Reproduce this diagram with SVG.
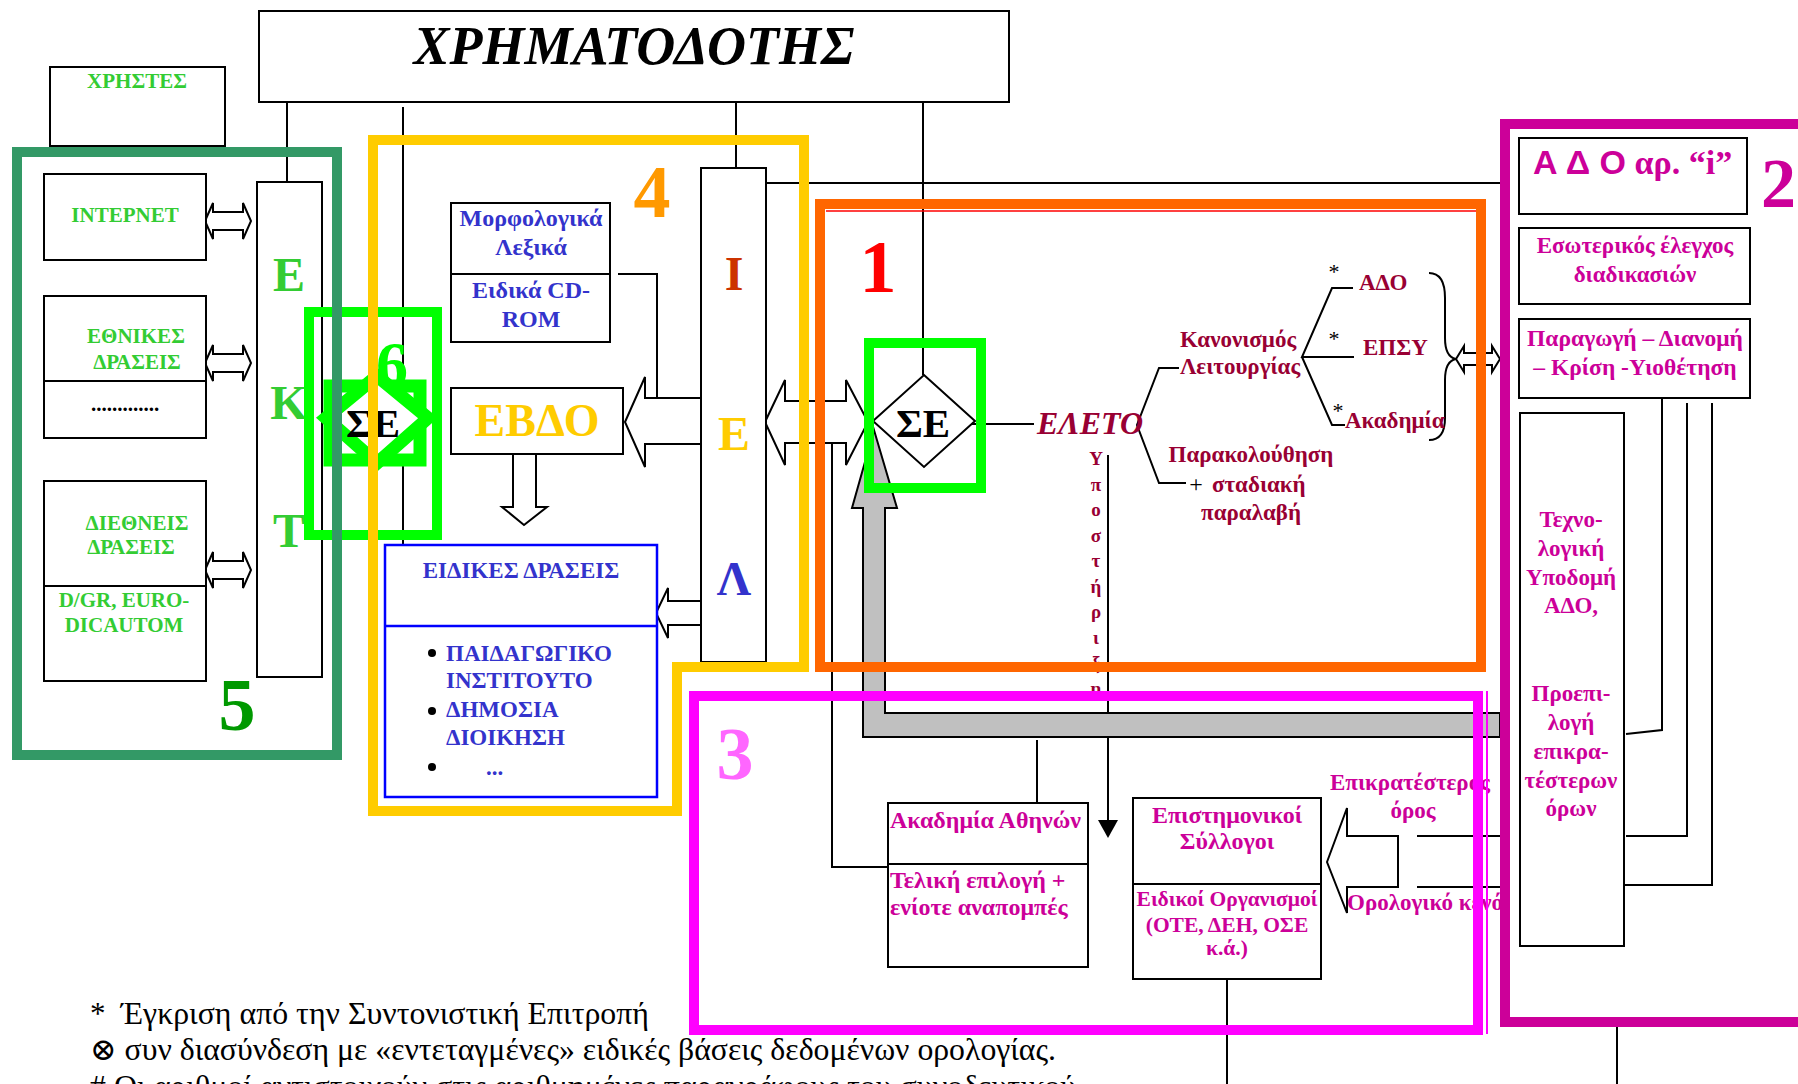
<svg xmlns="http://www.w3.org/2000/svg" width="1798" height="1084" viewBox="0 0 1798 1084">
<style>
.box{fill:#fff;stroke:#000;stroke-width:2}
.ln{fill:none;stroke:#000;stroke-width:2}
.arr{fill:#fff;stroke:#000;stroke-width:2;stroke-linejoin:miter}
.s{font-family:"Liberation Serif","DejaVu Serif",serif;font-weight:bold}
.c{text-anchor:middle}
.gr{fill:#33cc33}
.bl{fill:#3333cc}
.cr{fill:#990033}
.mg{fill:#cc0099}
.big{font-size:74px}
.frame{fill:none;stroke-linejoin:miter}
</style>
<rect x="0" y="0" width="1798" height="1084" fill="#fff"/>

<g id="connectors">
  <line class="ln" x1="287" y1="102" x2="287" y2="182"/>
  <line class="ln" x1="403" y1="107" x2="403" y2="545"/>
  <line class="ln" x1="736" y1="102" x2="736" y2="168"/>
  <line class="ln" x1="923" y1="102" x2="923" y2="375"/>
  <line class="ln" x1="766" y1="183" x2="1505" y2="183"/>
  <polyline class="ln" points="618,274 657,274 657,398"/>
  <polyline class="ln" points="832,444 832,867 888,867"/>
  <line class="ln" x1="1037" y1="740" x2="1037" y2="803"/>
  <line class="ln" x1="1108" y1="455" x2="1108" y2="822"/>
  <polygon points="1098,820 1118,820 1108,838" fill="#000"/>
  <line class="ln" x1="1227" y1="979" x2="1227" y2="1084"/>
  <line class="ln" x1="1617" y1="1027" x2="1617" y2="1084"/>
  <line class="ln" x1="968" y1="424" x2="1034" y2="424"/>
  <polyline class="ln" points="1179,368 1159,368 1137,425 1159,483 1186,483"/>
  <polyline class="ln" points="1353,288 1332,288 1302,357 1354,357"/>
  <polyline class="ln" points="1302,357 1332,425 1345,425"/>
  <path class="ln" d="M1429,273 Q1445,273 1445,298 L1445,338 Q1445,357 1456,359 Q1445,361 1445,380 L1445,418 Q1445,440 1429,440"/>
  <polyline class="ln" points="1662,398 1662,730 1626,734"/>
  <polyline class="ln" points="1687,403 1687,836 1626,836"/>
  <polyline class="ln" points="1712,403 1712,885 1620,885"/>
  <line class="ln" x1="1417" y1="836" x2="1500" y2="836"/>
  <line class="ln" x1="1417" y1="887" x2="1500" y2="887"/>
  <!-- block arrows -->
  <polygon class="arr" points="205,221 213,203 213,212 243,212 243,203 251,221 243,239 243,230 213,230 213,239"/>
  <polygon class="arr" points="205,363 213,345 213,354 243,354 243,345 251,363 243,381 243,372 213,372 213,381"/>
  <polygon class="arr" points="205,570 213,552 213,561 243,561 243,552 251,570 243,588 243,579 213,579 213,588"/>
  <polygon class="arr" points="625,422 645,377 645,398 701,398 701,444 645,444 645,467"/>
  <polygon class="arr" points="513,454 536,454 536,507 547,507 524,525 502,507 513,507"/>
  <polygon class="arr" points="656,613 668,588 668,601 701,601 701,625 668,625 668,638"/>
  <polygon class="arr" points="765,422 785,380 785,401 846,401 846,380 868,422 846,465 846,443 785,443 785,465"/>
  <polygon class="arr" points="1327,862 1347,808 1347,836 1398,836 1398,887 1347,887 1347,913"/>
  <polygon class="arr" points="1456,359 1464,346 1464,353 1492,353 1492,346 1500,359 1492,372 1492,365 1464,365 1464,372"/>
  <polygon points="863,737 863,508 852,508 874,430 897,508 885,508 885,713 1500,713 1500,737" fill="#c0c0c0" stroke="#000" stroke-width="2"/>
</g>

<g id="node-funder">
  <rect class="box" x="259" y="11" width="750" height="91"/>
  <text class="s c" x="634" y="64" font-size="54" font-style="italic" fill="#000">ΧΡΗΜΑΤΟΔΟΤΗΣ</text>
</g>
<g id="node-users">
  <rect class="box" x="50" y="67" width="175" height="79"/>
  <text class="s c gr" x="137" y="88" font-size="21">ΧΡΗΣΤΕΣ</text>
</g>
<g id="node-internet">
  <rect class="box" x="44" y="174" width="162" height="86"/>
  <text class="s c gr" x="125" y="222" font-size="21">ΙΝΤΕΡΝΕΤ</text>
</g>
<g id="node-national">
  <rect class="box" x="44" y="296" width="162" height="142"/>
  <line class="ln" x1="44" y1="381" x2="206" y2="381"/>
  <text class="s c gr" x="136" y="343" font-size="21">ΕΘΝΙΚΕΣ</text>
  <text class="s c gr" x="137" y="369" font-size="21">ΔΡΑΣΕΙΣ</text>
  <text class="s c" x="125" y="411" font-size="21" fill="#000">.............</text>
</g>
<g id="node-international">
  <rect class="box" x="44" y="481" width="162" height="200"/>
  <line class="ln" x1="44" y1="586" x2="206" y2="586"/>
  <text class="s c gr" x="137" y="530" font-size="21">ΔΙΕΘΝΕΙΣ</text>
  <text class="s c gr" x="131" y="554" font-size="21">ΔΡΑΣΕΙΣ</text>
  <text class="s c gr" x="124" y="607" font-size="21">D/GR, EURO-</text>
  <text class="s c gr" x="124" y="632" font-size="21">DICAUTOM</text>
</g>
<g id="node-ekt">
  <rect class="box" x="257" y="182" width="65" height="495"/>
  <text class="s c gr" x="289" y="291" font-size="48">Ε</text>
  <text class="s c gr" x="289" y="419" font-size="48">Κ</text>
  <text class="s c gr" x="289" y="547" font-size="48">Τ</text>
</g>
<g id="node-se6">
  <rect x="330" y="386" width="90" height="74" fill="#fff" stroke="#00ff00" stroke-width="13"/>
  <polygon points="377,376 428,418 377,463 326,418" fill="#fff" stroke="#00ff00" stroke-width="13"/>
  <text class="s c" x="373" y="437" font-size="41" fill="#000">ΣΕ</text>
  <text class="s c" x="392" y="386" font-size="64" fill="#00ff00">6</text>
</g>
<g id="node-morph">
  <rect class="box" x="451" y="203" width="159" height="139"/>
  <line class="ln" x1="451" y1="274" x2="610" y2="274"/>
  <text class="s c bl" x="531" y="226" font-size="24">Μορφολογικά</text>
  <text class="s c bl" x="531" y="255" font-size="24">Λεξικά</text>
  <text class="s c bl" x="531" y="298" font-size="24">Ειδικά CD-</text>
  <text class="s c bl" x="531" y="327" font-size="24">ROM</text>
</g>
<g id="node-evdo">
  <rect class="box" x="451" y="388" width="172" height="66"/>
  <text class="s c" x="537" y="436" font-size="46" fill="#ffcc00">ΕΒΔΟ</text>
</g>
<g id="node-special">
  <rect x="385" y="545" width="272" height="252" fill="#fff" stroke="#0000ff" stroke-width="2.5"/>
  <line x1="385" y1="626" x2="657" y2="626" stroke="#0000ff" stroke-width="2.5"/>
  <text class="s c bl" x="521" y="578" font-size="23">ΕΙΔΙΚΕΣ ΔΡΑΣΕΙΣ</text>
  <circle cx="432" cy="653" r="4"/>
  <circle cx="432" cy="711" r="4"/>
  <circle cx="432" cy="767" r="4"/>
  <text class="s bl" x="446" y="661" font-size="23">ΠΑΙΔΑΓΩΓΙΚΟ</text>
  <text class="s bl" x="446" y="688" font-size="23">ΙΝΣΤΙΤΟΥΤΟ</text>
  <text class="s bl" x="446" y="717" font-size="23">ΔΗΜΟΣΙΑ</text>
  <text class="s bl" x="446" y="745" font-size="23">ΔΙΟΙΚΗΣΗ</text>
  <text class="s bl" x="486" y="775" font-size="23">...</text>
</g>
<g id="node-iel">
  <rect class="box" x="701" y="168" width="65" height="494"/>
  <text class="s c" x="734" y="290" font-size="48" fill="#cc3300">Ι</text>
  <text class="s c" x="734" y="450" font-size="48" fill="#ffcc00">Ε</text>
  <text class="s c bl" x="734" y="595" font-size="48">Λ</text>
</g>
<g id="node-se1">
  <polygon points="924,375 975,421 924,467 873,421" fill="#fff" stroke="#000" stroke-width="2"/>
  <text class="s c" x="923" y="437" font-size="41" fill="#000">ΣΕ</text>
</g>
<g id="node-eleto">
  <text class="s cr" x="1037" y="434" font-size="32" font-style="italic">ΕΛΕΤΟ</text>
  <text class="s c cr" x="1096" font-size="19"><tspan x="1096" y="465">Υ</tspan><tspan x="1096" y="491">π</tspan><tspan x="1096" y="516">ο</tspan><tspan x="1096" y="542">σ</tspan><tspan x="1096" y="567">τ</tspan><tspan x="1096" y="593">ή</tspan><tspan x="1096" y="618">ρ</tspan><tspan x="1096" y="644">ι</tspan><tspan x="1096" y="669">ξ</tspan><tspan x="1096" y="695">η</tspan></text>
</g>
<g id="node-regulation">
  <text class="s c cr" x="1238" y="347" font-size="23">Κανονισμός</text>
  <text class="s c cr" x="1240" y="374" font-size="23">Λειτουργίας</text>
</g>
<g id="node-ado-branch">
  <text class="s cr" x="1359" y="290" font-size="23">ΑΔΟ</text>
  <text class="s cr" x="1363" y="355" font-size="23">ΕΠΣΥ</text>
  <text class="s cr" x="1345" y="428" font-size="23">Ακαδημία</text>
  <g font-family="Liberation Serif, serif" font-size="22" fill="#000" text-anchor="middle">
    <text x="1334" y="279">*</text>
    <text x="1334" y="346">*</text>
    <text x="1338" y="418">*</text>
  </g>
</g>
<g id="node-monitor">
  <text class="s c cr" x="1251" y="462" font-size="23">Παρακολούθηση</text>
  <text x="1196" y="492" font-family="Liberation Serif, serif" font-size="24" fill="#000" text-anchor="middle">+</text>
  <text class="s cr" x="1212" y="492" font-size="23">σταδιακή</text>
  <text class="s c cr" x="1251" y="520" font-size="23">παραλαβή</text>
</g>
<g id="node-academy">
  <rect class="box" x="888" y="803" width="200" height="164"/>
  <line class="ln" x1="888" y1="864" x2="1088" y2="864"/>
  <text class="s mg" x="890" y="828" font-size="24">Ακαδημία Αθηνών</text>
  <text class="s mg" x="890" y="888" font-size="24">Τελική επιλογή +</text>
  <text class="s mg" x="890" y="915" font-size="24">ενίοτε αναπομπές</text>
</g>
<g id="node-societies">
  <rect class="box" x="1133" y="798" width="188" height="181"/>
  <line class="ln" x1="1133" y1="884" x2="1321" y2="884"/>
  <text class="s c mg" x="1227" y="823" font-size="24">Επιστημονικοί</text>
  <text class="s c mg" x="1227" y="849" font-size="24">Σύλλογοι</text>
  <text class="s c mg" x="1227" y="906" font-size="21.5">Ειδικοί Οργανισμοί</text>
  <text class="s c mg" x="1227" y="932" font-size="21.5">(ΟΤΕ, ΔΕΗ, ΟΣΕ</text>
  <text class="s c mg" x="1227" y="955" font-size="21.5">κ.ά.)</text>
</g>
<g id="node-prevailing">
  <text class="s mg" x="1330" y="790" font-size="23">Επικρατέστερος</text>
  <text class="s c mg" x="1413" y="818" font-size="23">όρος</text>
  <text class="s mg" x="1347" y="910" font-size="23">Ορολογικό κενό</text>
</g>
<g id="node-ado-i">
  <rect class="box" x="1519" y="138" width="228" height="76"/>
  <text x="1533" y="174" font-size="34" font-weight="bold" fill="#cc0099"><tspan font-family="Liberation Sans, Arial, sans-serif">Α Δ Ο</tspan><tspan font-family="Liberation Serif, serif"> αρ. “i”</tspan></text>
</g>
<g id="node-internal">
  <rect class="box" x="1519" y="228" width="231" height="76"/>
  <text class="s c mg" x="1635" y="253" font-size="23">Εσωτερικός έλεγχος</text>
  <text class="s c mg" x="1635" y="282" font-size="23">διαδικασιών</text>
</g>
<g id="node-production">
  <rect class="box" x="1519" y="319" width="231" height="79"/>
  <text class="s c mg" x="1635" y="346" font-size="23.5">Παραγωγή – Διανομή</text>
  <text class="s c mg" x="1635" y="375" font-size="23.5">– Κρίση -Υιοθέτηση</text>
</g>
<g id="node-tech">
  <rect class="box" x="1520" y="413" width="104" height="533"/>
  <g class="s c mg" font-size="23">
    <text x="1571" y="527">Τεχνο-</text>
    <text x="1571" y="556">λογική</text>
    <text x="1571" y="585">Υποδομή</text>
    <text x="1571" y="613">ΑΔΟ,</text>
    <text x="1571" y="701">Προεπι-</text>
    <text x="1571" y="730">λογή</text>
    <text x="1571" y="759">επικρα-</text>
    <text x="1571" y="788">τέστερων</text>
    <text x="1571" y="816">όρων</text>
  </g>
</g>

<g id="frames">
  <rect class="frame" x="309" y="312" width="128" height="223" stroke="#00ff00" stroke-width="10"/>
  <rect class="frame" x="17" y="152" width="320" height="603" stroke="#339966" stroke-width="10"/>
  <polygon class="frame" points="373,140 804,140 804,667 677,667 677,811 373,811" stroke="#ffcc00" stroke-width="10"/>
  <rect class="frame" x="820" y="204" width="661" height="463" stroke="#ff6600" stroke-width="10"/>
  <line x1="826" y1="211" x2="1476" y2="211" stroke="#ff0000" stroke-width="1.5"/>
  <rect class="frame" x="694" y="696" width="784" height="334" stroke="#ff00ff" stroke-width="10"/>
  <line x1="1487" y1="691" x2="1487" y2="1034" stroke="#ff00ff" stroke-width="2"/>
  <rect class="frame" x="1505" y="124" width="320" height="898" stroke="#cc0099" stroke-width="10"/>
  <rect class="frame" x="869" y="343" width="112" height="145" stroke="#00ff00" stroke-width="10"/>
  <text class="s c big" x="237" y="730" fill="#009900">5</text>
  <text class="s c big" x="652" y="217" fill="#ff9900">4</text>
  <text class="s c big" x="878" y="292" fill="#ff0000">1</text>
  <text class="s c big" x="735" y="779" fill="#ff66ff">3</text>
  <text class="s" x="1761" y="207" font-size="70" fill="#cc0099">2</text>
</g>

<g id="footnotes" font-family="Liberation Serif, DejaVu Serif, serif" font-size="31" fill="#000">
  <text x="90" y="1024">*</text>
  <text x="121" y="1024" textLength="528" lengthAdjust="spacingAndGlyphs">Έγκριση από την Συντονιστική Επιτροπή</text>
  <text x="90" y="1060" textLength="966" lengthAdjust="spacingAndGlyphs">⊗ συν διασύνδεση με «εντεταγμένες» ειδικές βάσεις δεδομένων ορολογίας.</text>
  <text x="90" y="1097" textLength="986" lengthAdjust="spacingAndGlyphs"># Οι αριθμοί αντιστοιχούν στις αριθμημένες παραγράφους του συνοδευτικού</text>
</g>
</svg>
